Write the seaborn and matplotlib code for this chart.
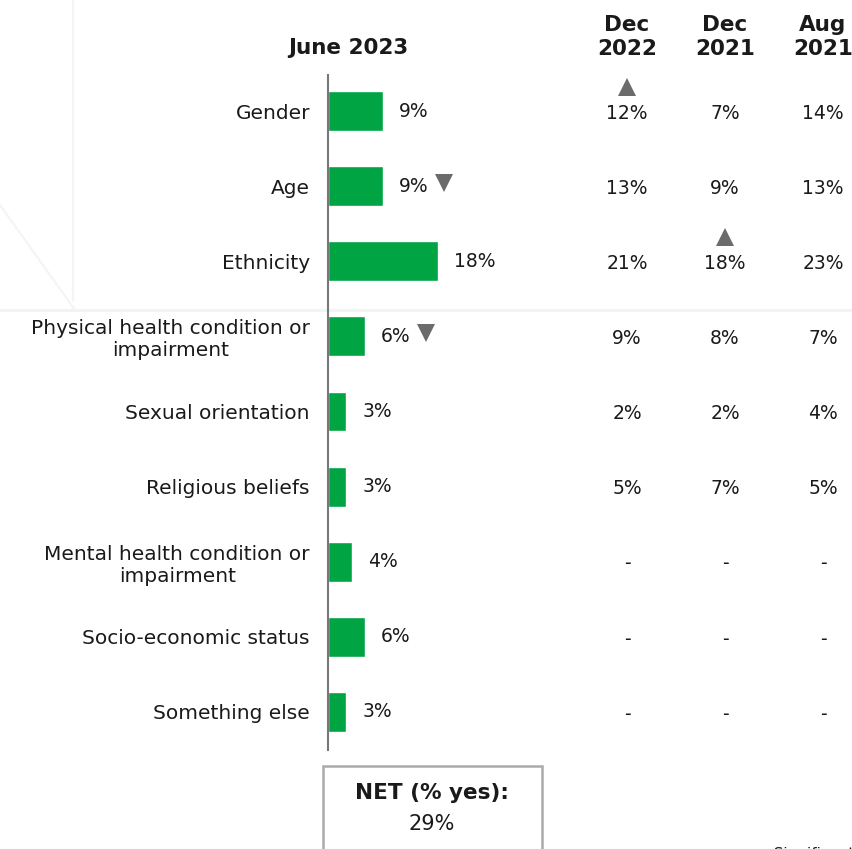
"""
Discrimination types reported - June 2023 bars with comparison columns
"""

import matplotlib.pyplot as plt
import matplotlib.transforms as mtransforms
from matplotlib.patches import Rectangle
import seaborn as sns
import pandas as pd

sns.set_style("white")
plt.rcParams['font.family'] = ['DejaVu Sans']

# ---- data ----
categories = [
    "Gender",
    "Age",
    "Ethnicity",
    "Physical health condition or\nimpairment",
    "Sexual orientation",
    "Religious beliefs",
    "Mental health condition or\nimpairment",
    "Socio-economic status",
    "Something else",
]
june_2023 = [9, 9, 18, 6, 3, 3, 4, 6, 3]
dec_2022 = ["12%", "13%", "21%", "9%", "2%", "5%", "-", "-", "-"]
dec_2021 = ["7%", "9%", "18%", "8%", "2%", "7%", "-", "-", "-"]
aug_2021 = ["14%", "13%", "23%", "7%", "4%", "5%", "-", "-", "-"]
column_headers = ["Dec\n2022", "Dec\n2021", "Aug\n2021"]
# significance flags (row indices)
down_in_june = [1, 3]
up_flags = {"Dec\n2022": [0], "Dec\n2021": [2], "Aug\n2021": []}
net_value = "29%"

GREEN = '#00A443'
GREY = '#6b6b6b'
TXT = '#1a1a1a'

W, H = 852, 849
fig = plt.figure(figsize=(W / 100, H / 100), dpi=100)

# faint background decoration
fig.add_artist(plt.Line2D([0, 1], [1 - 310 / H, 1 - 310 / H], color='#f2f2f2', lw=2,
                          transform=fig.transFigure, zorder=0))
fig.add_artist(plt.Line2D([73 / W, 73 / W], [1 - 300 / H, 1], color='#f4f4f4', lw=1.5,
                          transform=fig.transFigure, zorder=0))
fig.add_artist(plt.Line2D([0, 75 / W], [1 - 205 / H, 1 - 310 / H], color='#f4f4f4', lw=1.5,
                          transform=fig.transFigure, zorder=0))

# bar axes: left spine at x=328px, 6.1 px per percent
x0, px_per = 328, 6.1
top_px, bot_px = 75, 750
ax = fig.add_axes([x0 / W, 1 - bot_px / H, (W - x0) / W, (bot_px - top_px) / H])
ax.patch.set_alpha(0)

df = pd.DataFrame({'category': categories, 'value': june_2023})
sns.barplot(data=df, x='value', y='category', color=GREEN, width=0.53,
            saturation=1, ax=ax)

ax.set_xlim(0, (W - x0) / px_per)
row_px = 75.1
ax.set_ylim(8 + (bot_px - 712) / row_px, -(111 - top_px) / row_px)
ax.set_xlabel('')
ax.set_ylabel('')
ax.set_xticks([])
for s in ['top', 'right', 'bottom']:
    ax.spines[s].set_visible(False)
ax.spines['left'].set_color('#777777')
ax.spines['left'].set_linewidth(1.5)
ax.tick_params(axis='y', length=0, pad=13, labelsize=14.5, labelcolor=TXT)
for lab in ax.get_yticklabels():
    lab.set_horizontalalignment('right')
    lab.set_multialignment('center')

# value labels
for i, v in enumerate(june_2023):
    ax.text(v + 2.6, i, f"{v}%", va='center', ha='left', fontsize=13.5, color=TXT)
for i in down_in_june:
    ax.plot(june_2023[i] + 10, i - 0.04, marker='v', ms=13, color=GREY,
            markeredgewidth=0, clip_on=False)

# header for bars
fig.text(348 / W, 1 - 48 / H, "June 2023", ha='center', va='center',
         fontsize=15.5, fontweight='bold', color=TXT)

# comparison columns
blend = mtransforms.blended_transform_factory(fig.transFigure, ax.transData)
col_x = [627, 725, 823]
col_vals = [dec_2022, dec_2021, aug_2021]
for cx, head, vals in zip(col_x, column_headers, col_vals):
    fig.text(cx / W, 1 - 37 / H, head, ha='center', va='center', fontsize=15.5,
             fontweight='bold', color=TXT, linespacing=1.2)
    for i, t in enumerate(vals):
        ax.text(cx / W, i + 0.03, t, transform=blend, ha='center', va='center',
                fontsize=13.5, color=TXT, clip_on=False)
    for i in up_flags[head]:
        ax.plot([cx / W], [i - 0.32], transform=blend, marker='^', ms=13,
                color=GREY, markeredgewidth=0, clip_on=False)

# NET box
fig.add_artist(Rectangle((323 / W, 1 - 860 / H), (542 - 323) / W, (860 - 766) / H,
                         transform=fig.transFigure, fill=False, edgecolor='#aaaaaa',
                         lw=1.8))
fig.text(432 / W, 1 - 793 / H, "NET (% yes):", ha='center', va='center',
         fontsize=15.5, fontweight='bold', color=TXT)
fig.text(432 / W, 1 - 824 / H, net_value, ha='center', va='center',
         fontsize=15, color=TXT)

# footnote at bottom right, cut by the page edge as in the source slide
fig.text(757 / W, 1 - 862 / H, "\u25b2 Significantly higher", ha='left', va='bottom',
         fontsize=11, color=TXT)

fig.savefig('out.png', dpi=100, facecolor='white')
